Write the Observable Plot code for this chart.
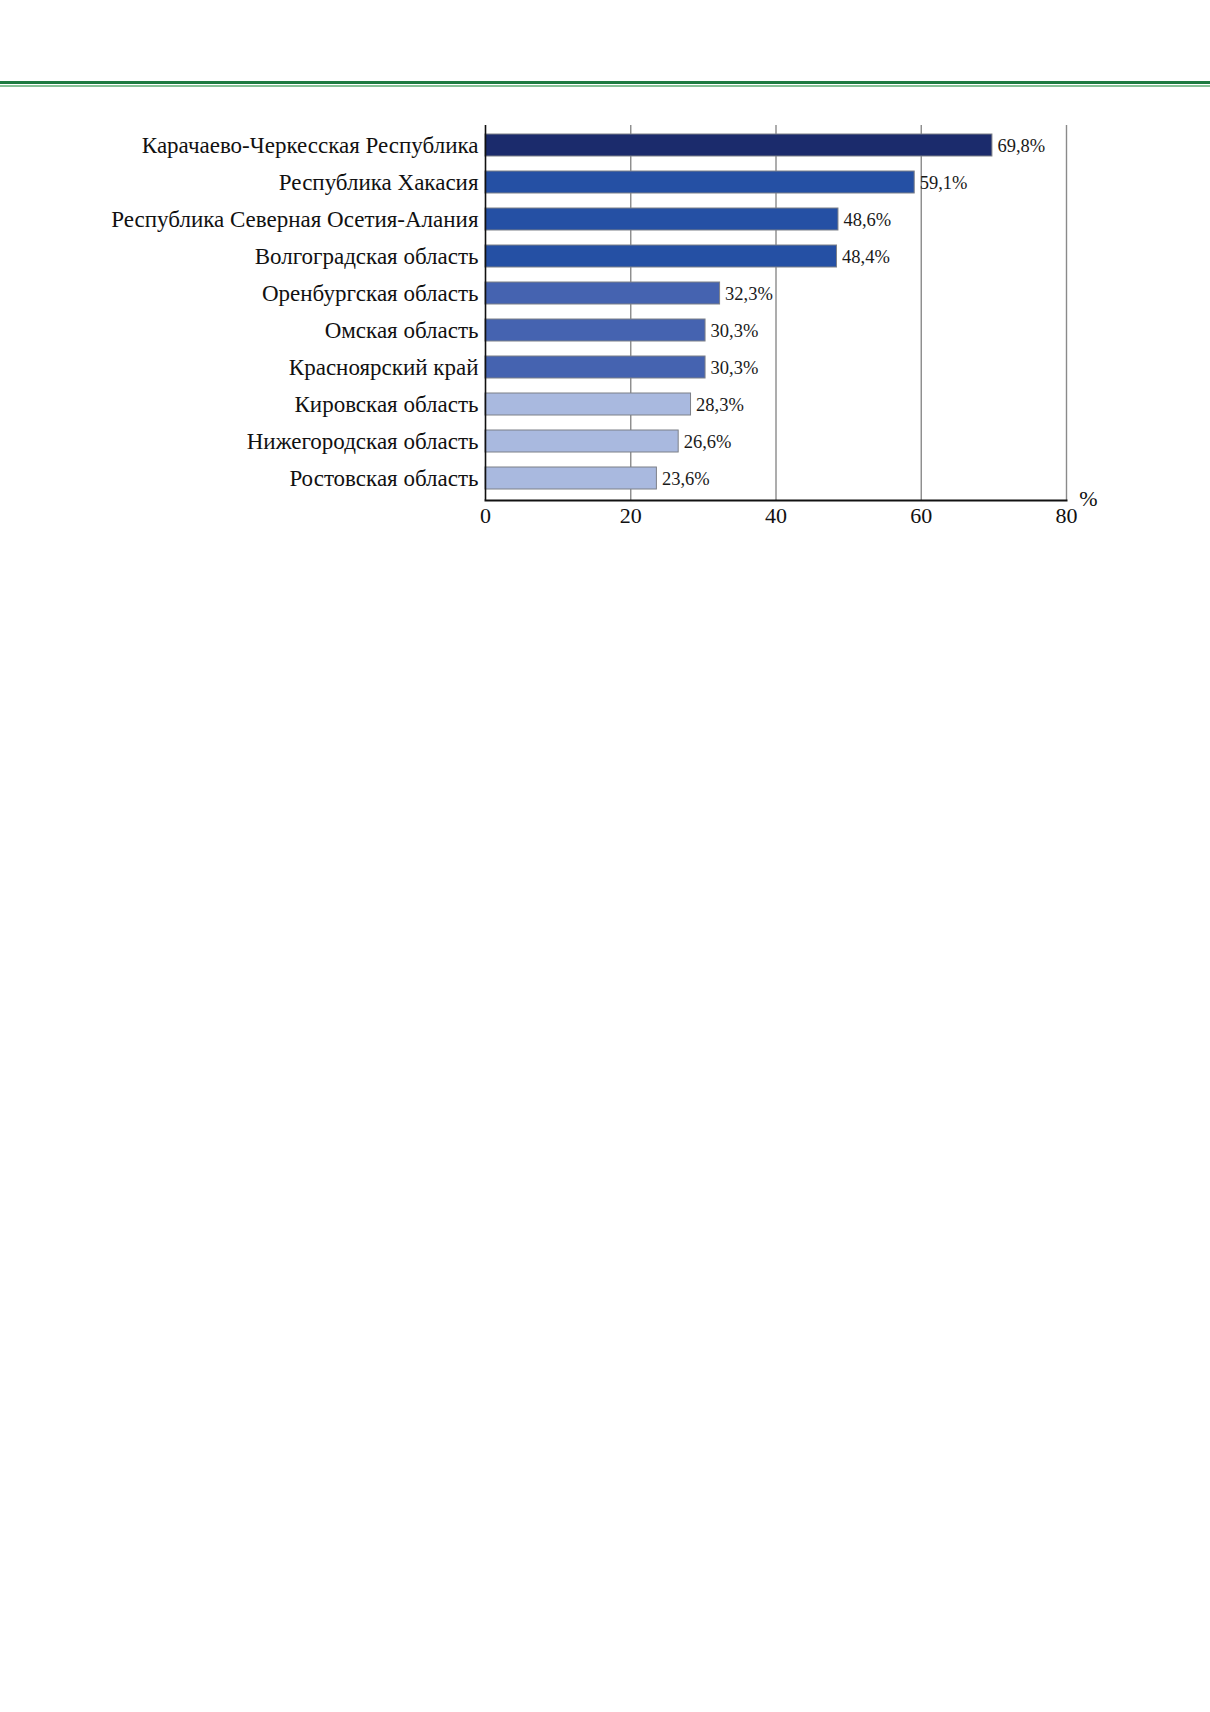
<!DOCTYPE html>
<html>
<head>
<meta charset="utf-8">
<script src="https://cdn.jsdelivr.net/npm/d3@7"></script>
<script src="https://cdn.jsdelivr.net/npm/@observablehq/plot@0.6"></script>
<style>
  html, body { margin: 0; padding: 0; background: #fff; }
  #page { position: relative; width: 1210px; height: 1712px; background: #fff; }
  .rule1 { position: absolute; left: 0; width: 1210px; top: 80.5px; height: 3px; background: #1d7a40; }
  .rule2 { position: absolute; left: 0; width: 1210px; top: 85px; height: 1.6px; background: #86c196; }
  #chart { position: absolute; left: 0; top: 0; }
</style>
</head>
<body>
<div id="page">
  <div class="rule1"></div>
  <div class="rule2"></div>
  <div id="chart"></div>
</div>
<script>
const regions = [
  "Карачаево-Черкесская Республика",
  "Республика Хакасия",
  "Республика Северная Осетия-Алания",
  "Волгоградская область",
  "Оренбургская область",
  "Омская область",
  "Красноярский край",
  "Кировская область",
  "Нижегородская область",
  "Ростовская область"
];
const values = [69.8, 59.1, 48.6, 48.4, 32.3, 30.3, 30.3, 28.3, 26.6, 23.6];
const groups = ["A", "B", "B", "B", "C", "C", "C", "D", "D", "D"];
const xTicks = [0, 20, 40, 60, 80];
const gridTicks = [20, 40, 60, 80];
const axisUnit = ["%"];

const data = regions.map((r, i) => ({region: r, value: values[i], group: groups[i]}));
const fmt = v => d3.format(".1f")(v).replace(".", ",") + "%";

const W = 1210, H = 560;
const plot = Plot.plot({
  width: W,
  height: H,
  marginLeft: 485,
  marginRight: 144,
  marginTop: 125,
  marginBottom: H - 500,
  style: {fontFamily: "'Liberation Serif', 'Times New Roman', serif", background: "transparent", color: "#111"},
  x: {domain: [0, 80], ticks: xTicks, label: null},
  y: {domain: regions, label: null, paddingInner: 0.41, paddingOuter: 0.205, insetTop: 1.5, insetBottom: 3.5},
  color: {domain: ["A", "B", "C", "D"], range: ["#1b2b6c", "#2550a4", "#4563b0", "#a9b9df"]},
  marks: [
    Plot.gridX(gridTicks, {stroke: "#8a8a8a", strokeOpacity: 1, strokeWidth: 1.4}),
    Plot.barX(data, {x: "value", y: "region", fill: "group", stroke: "#7d8088", strokeWidth: 1}),
    Plot.text(data, {x: "value", y: "region", text: d => fmt(d.value), textAnchor: "start", dx: 5, dy: 1, fontSize: 18.5, fill: "#1a1a1a"}),
    Plot.axisY({tickSize: 0, tickPadding: 7, fontSize: 23, fill: "#111", label: null}),
    Plot.axisX({ticks: xTicks, tickSize: 0, tickPadding: 7, fontSize: 22, fill: "#111", label: null, tickFormat: d => String(d)}),
    Plot.ruleX([0], {stroke: "#111", strokeWidth: 1.6}),
    Plot.frame({anchor: "bottom", stroke: "#111", strokeWidth: 2}),
    Plot.text(axisUnit, {frameAnchor: "bottom-right", dx: 31, dy: 5, fontSize: 22, fill: "#111"})
  ]
});
document.getElementById("chart").appendChild(plot);
</script>
</body>
</html>
